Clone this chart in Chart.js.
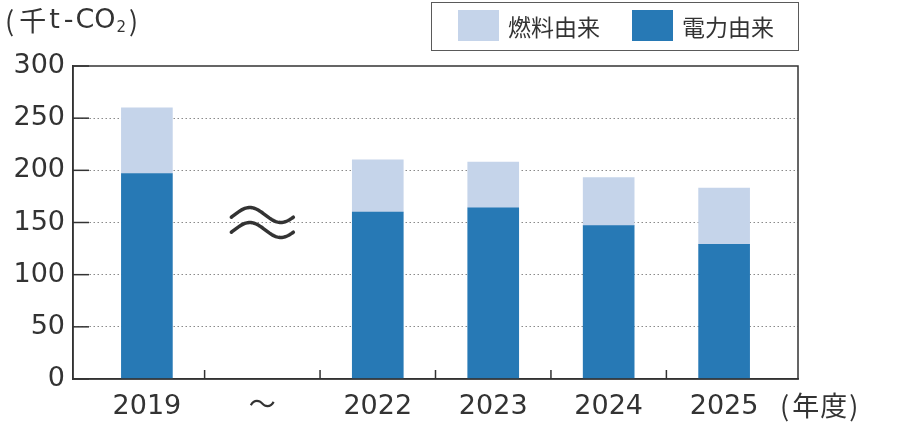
<!DOCTYPE html>
<html>
<head>
<meta charset="utf-8">
<script src="https://cdn.jsdelivr.net/npm/chart.js@4"></script>
<style>
  html, body { margin: 0; padding: 0; background: #fff; }
  #wrap { width: 900px; height: 437px; }
</style>
</head>
<body>
<div id="wrap"><canvas id="chart"></canvas></div>
<script>
// data
const categories = ['2019', '～', '2022', '2023', '2024', '2025'];
const electricity = [197, null, 160, 164, 147, 129]; // 電力由来
const fuel = [63, null, 50, 44, 46, 54];             // 燃料由来
const yTicks = [0, 50, 100, 150, 200, 250, 300];

const FONT = '"DejaVu Sans", "Noto Sans CJK JP", sans-serif';
const JP = '"Noto Sans CJK JP", sans-serif';
const TEXT = '#333333';
const LIGHT = '#c5d4ea';
const DARK = '#2779b5';

const toPoints = (arr) => arr.map((v, i) => ({ x: i, y: v }));

// draws a run of text pieces, each with its own font and gap after it
function drawRun(ctx, x, y, pieces) {
  pieces.forEach(p => {
    ctx.font = p.font;
    ctx.fillText(p.text, x, y + (p.dy || 0));
    x += ctx.measureText(p.text).width + (p.gap || 0);
  });
}

const decorations = {
  id: 'decorations',
  beforeDatasetsDraw(chart) {
    const { ctx, chartArea: a, scales } = chart;
    ctx.save();
    // y ticks: short solid segments inside the plot
    ctx.strokeStyle = TEXT;
    ctx.lineWidth = 1.5;
    yTicks.forEach(v => {
      const y = scales.y.getPixelForValue(v);
      ctx.beginPath();
      ctx.moveTo(a.left, y);
      ctx.lineTo(a.left + 16, y);
      ctx.stroke();
    });
    // x ticks between categories, pointing up
    for (let i = 0; i < categories.length - 1; i++) {
      const x = scales.x.getPixelForValue(i + 0.5);
      ctx.beginPath();
      ctx.moveTo(x, a.bottom);
      ctx.lineTo(x, a.bottom - 9);
      ctx.stroke();
    }
    ctx.restore();
  },
  afterDraw(chart) {
    const { ctx, chartArea: a, scales } = chart;
    ctx.save();
    // frame
    ctx.strokeStyle = TEXT;
    ctx.lineWidth = 1.5;
    ctx.strokeRect(a.left, a.top, a.right - a.left, a.bottom - a.top);

    // axis break symbol
    const cx = scales.x.getPixelForValue(1);
    const cy = scales.y.getPixelForValue(150);
    ctx.lineWidth = 3.5;
    ctx.lineCap = 'round';
    [-7.5, 7.5].forEach(off => {
      ctx.beginPath();
      for (let t = 0; t <= 60; t++) {
        const px = cx - 31 + t * 62 / 60;
        const py = cy + off - 7.5 * Math.sin((t / 60) * Math.PI * 2 - 0.3);
        if (t === 0) ctx.moveTo(px, py); else ctx.lineTo(px, py);
      }
      ctx.stroke();
    });

    // unit title
    ctx.fillStyle = TEXT;
    ctx.textBaseline = 'middle';
    ctx.textAlign = 'left';
    const big = '27px ' + FONT;
    const bigJP = '27px ' + JP;
    drawRun(ctx, 5, 21, [
      { text: '(', font: bigJP, gap: 5 },
      { text: '千', font: bigJP, gap: 3 },
      { text: 't', font: big, gap: 4 },
      { text: '-', font: big, gap: 2 },
      { text: 'CO', font: big, gap: 1 },
      { text: '2', font: '15px ' + FONT, dy: 7, gap: 3 },
      { text: ')', font: bigJP }
    ]);

    // year unit after last label
    drawRun(ctx, 780, 406, [
      { text: '(', font: bigJP, gap: 3 },
      { text: '年', font: bigJP, gap: 1 },
      { text: '度', font: bigJP, gap: 2 },
      { text: ')', font: bigJP }
    ]);

    // legend
    ctx.strokeStyle = '#5a5a5a';
    ctx.lineWidth = 1;
    ctx.strokeRect(431.5, 2.5, 367, 48);
    const items = chart.data.datasets.slice().reverse();
    const xs = [458, 632];
    items.forEach((ds, i) => {
      ctx.fillStyle = ds.backgroundColor;
      ctx.fillRect(xs[i], 10, 41, 31);
      ctx.fillStyle = TEXT;
      ctx.font = '23px ' + JP;
      ctx.fillText(ds.label, xs[i] + 50, 27);
    });
    ctx.restore();
  }
};

new Chart(document.getElementById('chart'), {
  type: 'bar',
  data: {
    datasets: [
      { label: '電力由来', data: toPoints(electricity), backgroundColor: DARK, barThickness: 51 },
      { label: '燃料由来', data: toPoints(fuel), backgroundColor: LIGHT, barThickness: 51 }
    ]
  },
  options: {
    responsive: true,
    maintainAspectRatio: false,
    animation: false,
    layout: { padding: { top: 66, right: 102, left: 0, bottom: 0 } },
    plugins: { legend: { display: false }, tooltip: { enabled: false } },
    scales: {
      x: {
        type: 'linear',
        stacked: true,
        offset: false,
        min: -0.64,
        max: categories.length - 1 + 0.64,
        afterBuildTicks: (s) => { s.ticks = categories.map((c, i) => ({ value: i })); },
        afterFit: (s) => { s.height = 58; },
        grid: { display: false, drawTicks: false },
        border: { display: true, color: TEXT, width: 1.5 },
        ticks: {
          callback: (v) => categories[v],
          color: TEXT,
          padding: 12,
          maxRotation: 0,
          autoSkip: false,
          font: { family: FONT, size: 27 }
        }
      },
      y: {
        stacked: true,
        min: 0,
        max: 300,
        afterBuildTicks: (s) => { s.ticks = yTicks.map(v => ({ value: v })); },
        afterFit: (s) => { s.width = 73; },
        grid: {
          color: (c) => (c.tick.value === 0 || c.tick.value === 300) ? 'rgba(0,0,0,0)' : '#8a8a8a',
          lineWidth: 1,
          drawTicks: false
        },
        border: { display: true, color: TEXT, width: 1.5, dash: [1.5, 2.5] },
        ticks: {
          color: TEXT,
          padding: 8,
          font: { family: FONT, size: 27 }
        }
      }
    }
  },
  plugins: [decorations]
});
</script>
</body>
</html>
